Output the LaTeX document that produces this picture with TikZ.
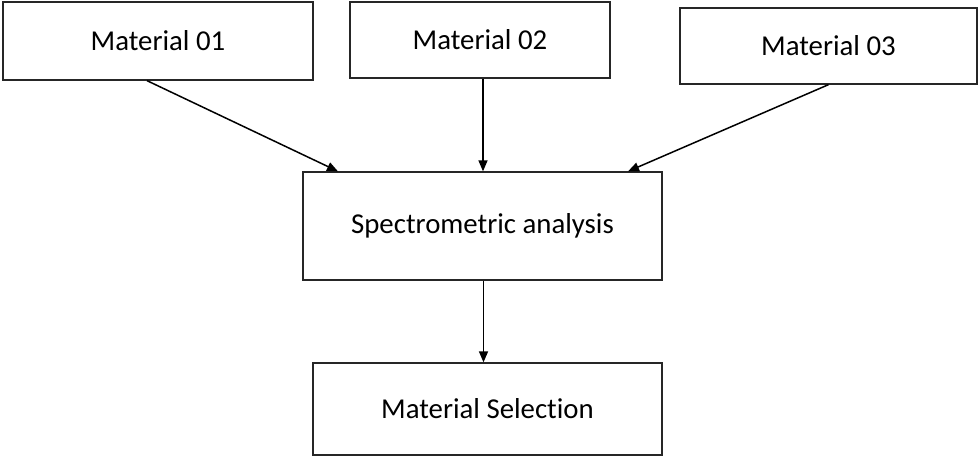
\documentclass[tikz,border=0pt]{standalone}
\usepackage{fontspec}
\setmainfont{Carlito}[Ligatures=NoCommon]
\usetikzlibrary{arrows.meta,calc}
\begin{document}
\begin{tikzpicture}[x=1pt,y=-1pt,
  box/.style={draw=black!85,line width=1.3pt,inner sep=0pt,font=\fontsize{28.8}{34}\selectfont},
  conn/.style={line width=1.5pt,-{Triangle[length=11pt,width=9pt]}}]
\useasboundingbox (0,0) rectangle (980,457);
\node[box,minimum width=310pt,minimum height=78pt] (m1) at (158,41) {Material 01};
\node[box,minimum width=260pt,minimum height=76pt] (m2) at (480,40) {Material 02};
\node[box,minimum width=297pt,minimum height=76pt] (m3) at (828.5,46) {Material 03};
\node[box,minimum width=359pt,minimum height=108pt] (s) at (482.5,226) {Spectrometric analysis};
\node[box,minimum width=349pt,minimum height=92pt] (sel) at (487.5,409) {Material Selection};
\draw[conn] ([xshift=-11pt]m1.south) -- ([xshift=-144.5pt]s.north);
\draw[conn] ([xshift=3pt]m2.south) -- ([xshift=3pt]m2.south |- s.north);
\draw[conn] (m3.south) -- ([xshift=145.5pt]s.north);
\draw[conn] ([xshift=1pt]s.south) -- ([xshift=1pt]s.south |- sel.north);
\end{tikzpicture}
\end{document}
